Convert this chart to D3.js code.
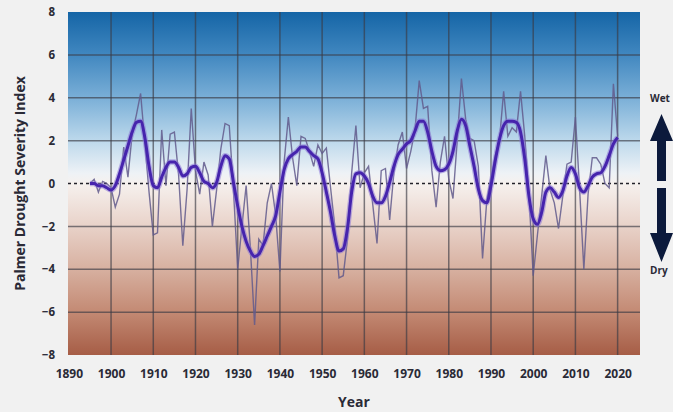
<!DOCTYPE html>
<html>
<head>
<meta charset="utf-8">
<script src="https://cdn.jsdelivr.net/npm/d3@7"></script>
<style>
  body { margin: 0; background: #f1f1f1; }
  svg { display: block; }
  text { font-family: "Open Sans", "DejaVu Sans", sans-serif; font-weight: 700; fill: #2a2a36; }
</style>
</head>
<body>
<svg id="chart"></svg>
<script>
// Annual PDSI values, 1895-2020
const years = d3.range(1895, 2021);
const annual = [
  0.0, 0.2, -0.4, 0.1, 0.0, -0.2, -1.1, -0.5, 1.7, 0.3,        // 1895-1904
  2.3, 3.2, 4.2, 1.9, -0.4, -2.4, -2.3, 2.5, -0.1, 2.3,        // 1905-1914
  2.4, 0.4, -2.9, -0.3, 3.5, 0.6, -0.5, 1.0, 0.4, -2.0,        // 1915-1924
  -0.3, 1.6, 2.8, 2.7, -0.3, -4.0, -2.0, -0.1, -3.0, -6.6,     // 1925-1934
  -2.6, -2.9, -0.9, 0.0, -1.5, -4.1, 1.0, 3.1, 1.2, -0.1,      // 1935-1944
  2.2, 2.1, 1.5, 0.8, 1.8, 1.4, 1.65, -0.2, -2.0, -4.4,        // 1945-1954
  -4.3, -2.6, 0.5, 2.7, -0.2, 0.5, 0.8, -1.0, -2.8, 0.6,       // 1955-1964
  0.7, -1.7, 0.5, 1.8, 2.4, 0.7, 1.5, 2.5, 4.8, 3.5,           // 1965-1974
  3.6, 0.6, -1.1, 1.0, 2.2, 0.2, -0.7, 2.0, 4.9, 3.0,          // 1975-1984
  2.1, 2.0, 0.8, -3.5, -0.8, 0.3, 1.3, 2.0, 4.3, 2.2,          // 1985-1994
  2.6, 2.4, 4.3, 2.2, -0.5, -4.3, -2.4, -0.6, 1.3, -0.3,       // 1995-2004
  -0.9, -2.1, -0.6, 0.9, 1.0, 3.1, -0.3, -4.0, -0.5, 1.2,      // 2005-2014
  1.2, 0.9, 0.0, -0.2, 4.65, 2.2                               // 2015-2020
];
// Nine-year weighted average
const smooth = [
  0.0, 0.0, -0.1, -0.1, -0.2, -0.3, -0.1, 0.45, 1.1, 1.75,
  2.4, 2.85, 2.9, 2.15, 0.8, -0.1, -0.2, 0.3, 0.75, 1.0,
  1.0, 0.75, 0.35, 0.45, 0.75, 0.8, 0.5, 0.1, 0.0, -0.2,
  0.05, 0.8, 1.3, 1.15, 0.05, -1.05, -2.0, -2.7, -3.15, -3.4,
  -3.3, -2.9, -2.45, -2.0, -1.5, -0.4, 0.65, 1.15, 1.35, 1.5,
  1.7, 1.7, 1.5, 1.3, 1.15, 0.5, -0.4, -1.35, -2.45, -3.15,
  -3.05, -2.1, -0.4, 0.45, 0.5, 0.35, 0.0, -0.6, -0.9, -0.9,
  -0.6, 0.05, 0.8, 1.35, 1.6, 1.85, 2.0, 2.45, 2.9, 2.9,
  2.4, 1.5, 0.8, 0.6, 0.65, 0.9, 1.5, 2.45, 3.0, 2.7,
  1.75, 0.8, -0.25, -0.8, -0.9, -0.1, 1.05, 2.05, 2.7, 2.9,
  2.9, 2.85, 2.4, 1.15, -0.6, -1.65, -1.9, -1.35, -0.4, -0.2,
  -0.4, -0.65, -0.35, 0.35, 0.75, 0.45, -0.2, -0.4, -0.1, 0.3,
  0.45, 0.5, 0.8, 1.3, 1.85, 2.15
];
const xTicks = d3.range(1890, 2021, 10);
const yTicks = d3.range(-8, 9, 2);

const width = 673, height = 412;
const m = { left: 68, right: 640, top: 12, bottom: 355 };

const svg = d3.select("#chart").attr("width", width).attr("height", height);
svg.append("rect").attr("width", width).attr("height", height).attr("fill", "#f1f1f1");

const x = d3.scaleLinear().domain([1889.8, 2025.3]).range([m.left, m.right]);
const y = d3.scaleLinear().domain([-8, 8]).range([m.bottom, m.top]);

// wet-to-dry background
const grad = svg.append("defs").append("linearGradient")
    .attr("id", "bg").attr("x1", 0).attr("x2", 0).attr("y1", 0).attr("y2", 1);
[
  [0, "#1565a6"], [0.12, "#3f86bf"], [0.25, "#7aafd7"], [0.37, "#bad7eb"],
  [0.47, "#eef2f6"], [0.5, "#f6f1ee"], [0.62, "#e9d3ca"], [0.75, "#d7b0a0"],
  [0.87, "#c48b75"], [1, "#a65d46"]
].forEach(s => grad.append("stop").attr("offset", s[0]).attr("stop-color", s[1]));

svg.append("rect")
    .attr("x", m.left).attr("y", m.top)
    .attr("width", m.right - m.left).attr("height", m.bottom - m.top)
    .attr("fill", "url(#bg)");

// grid
const grid = svg.append("g").attr("stroke", "#3a3a44").attr("stroke-opacity", 0.65).attr("stroke-width", 1.5);
grid.selectAll(".h").data(yTicks.filter(d => d !== 0 && Math.abs(d) < 8)).enter().append("line")
    .attr("x1", m.left).attr("x2", m.right).attr("y1", d => y(d)).attr("y2", d => y(d));
grid.selectAll(".v").data(xTicks.filter(d => d > 1890)).enter().append("line")
    .attr("y1", m.top).attr("y2", m.bottom).attr("x1", d => x(d)).attr("x2", d => x(d));

svg.append("line")
    .attr("x1", m.left).attr("x2", m.right).attr("y1", y(0)).attr("y2", y(0))
    .attr("stroke", "#22222a").attr("stroke-width", 1.5).attr("stroke-dasharray", "3,3");

const line = d3.line().x((d, i) => x(years[i])).y(d => y(d));

svg.append("path").datum(annual)
    .attr("d", line)
    .attr("fill", "none").attr("stroke", "#615a8c").attr("stroke-width", 1.4).attr("stroke-opacity", 0.85);

const smoothLine = d3.line().x((d, i) => x(years[i])).y(d => y(d)).curve(d3.curveMonotoneX);
svg.append("path").datum(smooth)
    .attr("d", smoothLine)
    .attr("fill", "none").attr("stroke", "#8a76d6").attr("stroke-width", 5.5).attr("stroke-opacity", 0.55);
svg.append("path").datum(smooth)
    .attr("d", smoothLine)
    .attr("fill", "none").attr("stroke", "#4624ad").attr("stroke-width", 3);

// axes
const yAxis = svg.append("g").attr("transform", `translate(${m.left - 13},0)`)
    .call(d3.axisLeft(y).tickValues(yTicks).tickSize(0).tickPadding(0).tickFormat(d3.format("d")));
yAxis.select(".domain").remove();
yAxis.selectAll("text").attr("font-size", 11.5);

const xAxis = svg.append("g").attr("transform", `translate(0,${m.bottom + 14})`)
    .call(d3.axisBottom(x).tickValues(xTicks).tickSize(0).tickPadding(0).tickFormat(d3.format("d")));
xAxis.select(".domain").remove();
xAxis.selectAll("text").attr("font-size", 12);
svg.selectAll(".tick text").attr("fill", "#2a2a36");
svg.selectAll("g").attr("font-family", null);

svg.append("text")
    .attr("transform", `translate(25,${(m.top + m.bottom) / 2}) rotate(-90)`)
    .attr("text-anchor", "middle")
    .attr("font-size", 14)
    .text("Palmer Drought Severity Index");

svg.append("text")
    .attr("x", (m.left + m.right) / 2).attr("y", 407)
    .attr("text-anchor", "middle")
    .attr("font-size", 14)
    .text("Year");

// wet / dry arrows
const ax = 661.5;
svg.append("path")
    .attr("d", `M${ax},114 L${ax + 11.5},141 L${ax + 4.5},141 L${ax + 4.5},181 L${ax - 4.5},181 L${ax - 4.5},141 L${ax - 11.5},141 Z`)
    .attr("fill", "#0c1a3c");
svg.append("path")
    .attr("d", `M${ax},262 L${ax + 11.5},233 L${ax + 4.5},233 L${ax + 4.5},188 L${ax - 4.5},188 L${ax - 4.5},233 L${ax - 11.5},233 Z`)
    .attr("fill", "#0c1a3c");

svg.append("text").attr("x", 650).attr("y", 102).attr("font-size", 10).text("Wet");
svg.append("text").attr("x", 650).attr("y", 274).attr("font-size", 10).text("Dry");
</script>
</body>
</html>
